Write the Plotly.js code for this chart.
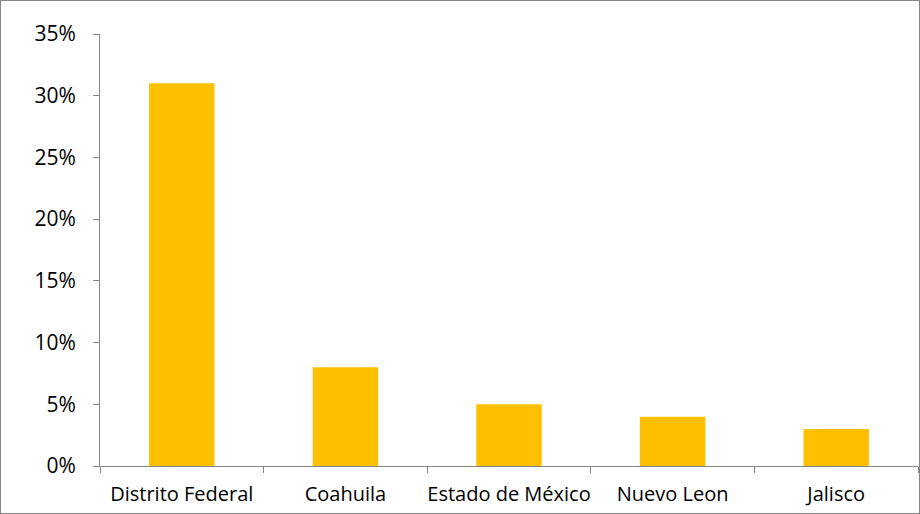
<!DOCTYPE html>
<html>
<head>
<meta charset="utf-8">
<script src="https://cdn.plot.ly/plotly-3.0.1.min.js"></script>
<style>
html,body{margin:0;padding:0;background:#fff;}
#chart{width:918px;height:512px;border:1px solid #868686;}
</style>
</head>
<body>
<div id="chart"></div>
<script>
const categories = ["Distrito Federal", "Coahuila", "Estado de México", "Nuevo Leon", "Jalisco"];
const shares = [0.31, 0.08, 0.05, 0.04, 0.03];

const trace = {
  type: "bar",
  x: categories,
  y: shares,
  marker: {color: "#FCC000", line: {width: 0}},
  hoverinfo: "x+y"
};

const layout = {
  width: 918,
  height: 512,
  margin: {l: 99, r: 1, t: 33, b: 47},
  paper_bgcolor: "#ffffff",
  plot_bgcolor: "#ffffff",
  bargap: 0.6,
  showlegend: false,
  font: {family: "Open Sans, Liberation Sans, sans-serif", size: 20, color: "#000"},
  xaxis: {
    type: "category",
    showline: true, linecolor: "#868686", linewidth: 1,
    ticks: "outside", tickson: "boundaries", ticklen: 6, tickcolor: "#868686",
    showgrid: false, zeroline: false,
    tickangle: 0,
    ticklabelstandoff: 10,
    tickfont: {size: 20}
  },
  yaxis: {
    range: [0, 0.35], dtick: 0.05, tickformat: ".0%",
    showline: true, linecolor: "#868686", linewidth: 1,
    ticks: "outside", ticklen: 6, tickcolor: "#868686",
    showgrid: false, zeroline: false,
    ticklabelstandoff: 13,
    tickfont: {size: 21}
  }
};

Plotly.newPlot("chart", [trace], layout, {displayModeBar: false, staticPlot: true});
</script>
</body>
</html>
